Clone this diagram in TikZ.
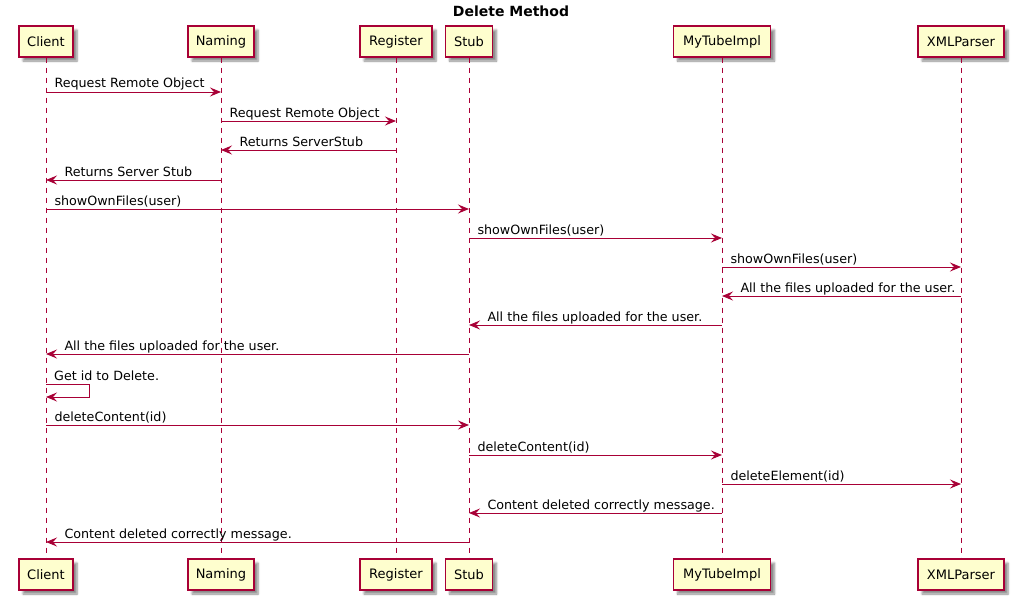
\documentclass[tikz,border=0pt]{standalone}
\usepackage{fontspec}
\setmainfont{DejaVu Sans}
\usetikzlibrary{arrows.meta,shadows.blur}
\definecolor{umlred}{HTML}{A80036}
\definecolor{umlfill}{HTML}{FEFECE}
\begin{document}
\begin{tikzpicture}[x=1pt,y=-1pt,
  actor/.style={draw=umlred, fill=umlfill, line width=1.2pt, minimum height=31pt,
    inner sep=0pt, font=\fontsize{13}{15}\selectfont,
    blur shadow={shadow xshift=4pt, shadow yshift=-4pt, shadow blur radius=2pt,
      shadow blur steps=6, shadow opacity=45}},
  life/.style={draw=umlred, line width=0.9pt, dash pattern=on 5pt off 5pt},
  msg/.style={draw=umlred, line width=1pt,
    -{Stealth[length=11pt, width=9pt, inset=4pt]}},
  lbl/.style={font=\fontsize{12.7}{15}\selectfont, inner sep=0pt, text=black},
  rlbl/.style={lbl, pos=0, anchor=base west, xshift=8pt, yshift=4pt},
  llbl/.style={lbl, pos=1, anchor=base west, xshift=18pt, yshift=4pt}]
\useasboundingbox (0,0) rectangle (1025,610);

% title
\node[font=\bfseries\fontsize{14}{16}\selectfont] (title) at (511,11) {Delete Method};

% participants, top and bottom
\foreach \n/\x/\w/\t in {c/46/54/Client, n/221/66/Naming, r/396/72/Register,
                         s/469/47/Stub, m/722/97/MyTubeImpl, x/961/86/XMLParser}{
  \node[actor, minimum width=\w pt] (\n T) at (\x,41.5) {\t};
  \node[actor, minimum width=\w pt] (\n B) at (\x,574.5) {\t};
}

% lifelines
\foreach \n in {c,n,r,s,m,x}{
  \draw[life] (\n T.south) -- (\n B.north);
}

% messages going right
\foreach \f/\t/\y/\l in {
    cT/nT/92/Request Remote Object,
    nT/rT/121/Request Remote Object,
    cT/sT/209/showOwnFiles(user),
    sT/mT/238/showOwnFiles(user),
    mT/xT/267/showOwnFiles(user),
    cT/sT/425/deleteContent(id),
    sT/mT/455/deleteContent(id),
    mT/xT/484/deleteElement(id)}{
  \draw[msg] (\f |- 0,\y) -- (\t |- 0,\y) node[rlbl] {\l};
}

% messages going left
\foreach \f/\t/\y/\l in {
    rT/nT/150/Returns ServerStub,
    nT/cT/180/Returns Server Stub,
    xT/mT/296/All the files uploaded for the user.,
    mT/sT/325/All the files uploaded for the user.,
    sT/cT/354/All the files uploaded for the user.,
    mT/sT/513/Content deleted correctly message.,
    sT/cT/542/Content deleted correctly message.}{
  \draw[msg] (\f |- 0,\y) -- (\t |- 0,\y) node[llbl] {\l};
}

% self message on Client
\draw[msg] (cT |- 0,384) -- (89,384) -- (89,397) -- (cT |- 0,397);
\node[lbl, anchor=base west] (selfl) at (54,380) {Get id to Delete.};
\end{tikzpicture}
\end{document}
